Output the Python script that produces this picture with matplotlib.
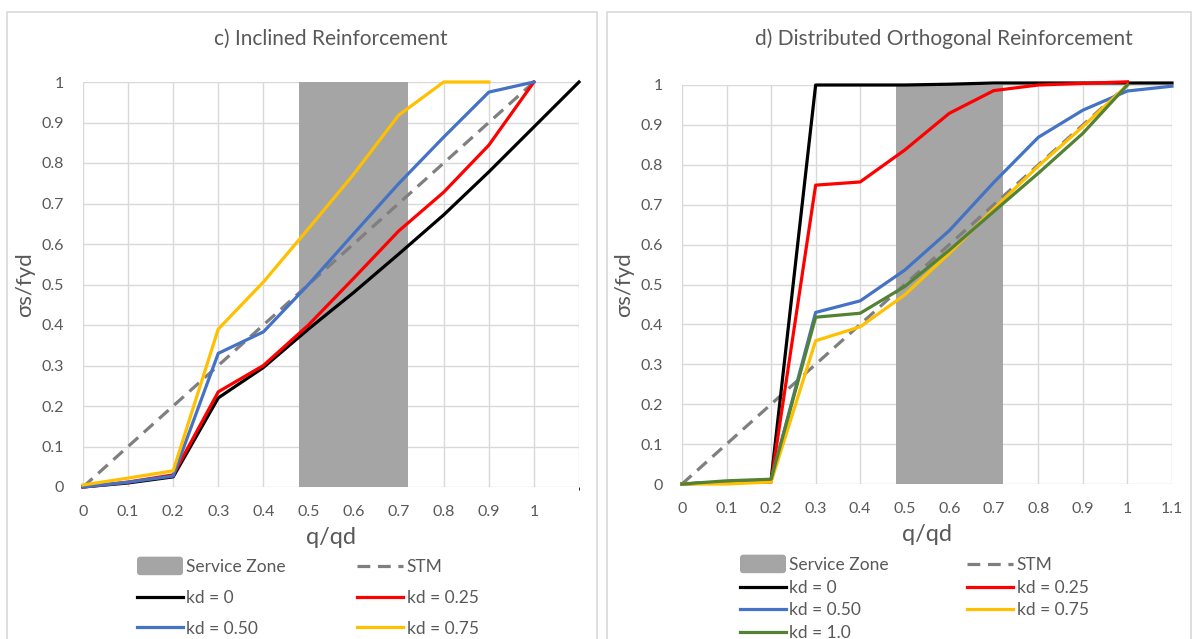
import matplotlib.pyplot as plt
from matplotlib.patches import Rectangle, Patch, FancyBboxPatch
from matplotlib.lines import Line2D
from matplotlib.legend_handler import HandlerPatch

plt.rcParams['font.family'] = ['Lato', 'DejaVu Sans']

# ---------------------------------------------------------------- data
q_c = [0, 0.1, 0.2, 0.3, 0.4, 0.5, 0.6, 0.7, 0.8, 0.9, 1.0, 1.1]
c_kd0 = [0, 0.01, 0.025, 0.22, 0.295, 0.39, 0.48, 0.575, 0.672, 0.778, 0.889, 1.0]
q_c2 = [0, 0.1, 0.2, 0.3, 0.4, 0.5, 0.6, 0.7, 0.8, 0.9, 1.0]
c_kd025 = [0, 0.012, 0.03, 0.235, 0.30, 0.40, 0.515, 0.632, 0.728, 0.844, 1.0]
c_kd050 = [0, 0.012, 0.027, 0.33, 0.383, 0.50, 0.625, 0.749, 0.864, 0.975, 1.0]
q_c3 = [0, 0.1, 0.2, 0.3, 0.4, 0.5, 0.6, 0.7, 0.8, 0.9]
c_kd075 = [0.005, 0.022, 0.04, 0.39, 0.506, 0.638, 0.772, 0.918, 1.0, 1.0]

q_d = [0, 0.1, 0.2, 0.3, 0.4, 0.5, 0.6, 0.7, 0.8, 0.9, 1.0, 1.1]
d_kd0 = [0, 0.005, 0.01, 1.0, 1.0, 1.0, 1.002, 1.005, 1.005, 1.005, 1.005, 1.005]
q_d2 = [0, 0.1, 0.2, 0.3, 0.4, 0.5, 0.6, 0.7, 0.8, 0.9, 1.0]
d_kd025 = [0, 0.004, 0.005, 0.749, 0.757, 0.837, 0.929, 0.986, 1.0, 1.004, 1.008]
d_kd050 = [0, 0.005, 0.01, 0.43, 0.459, 0.536, 0.635, 0.756, 0.869, 0.937, 0.985, 0.997]
d_kd075 = [0, 0.0, 0.005, 0.359, 0.394, 0.474, 0.578, 0.69, 0.797, 0.896, 1.0]
d_kd100 = [0, 0.008, 0.012, 0.418, 0.428, 0.495, 0.586, 0.683, 0.779, 0.879, 1.0]

stm_q = [0, 1.0]
stm_s = [0, 1.0]
service_zone = (0.48, 0.72)

col_kd0 = '#000000'
col_kd025 = '#FF0000'
col_kd050 = '#4472C4'
col_kd075 = '#FFC000'
col_kd100 = '#548235'
col_stm = '#7F7F7F'
col_zone = '#A5A5A5'
txt = '#595959'
dash = (0, (4, 2.4))
LW = 2.3
W, H = 1198, 639

fig = plt.figure(figsize=(11.98, 6.39), dpi=100)

# panel frames
for x0, x1 in [(7, 597), (607, 1191)]:
    fig.patches.append(Rectangle((x0 / W, -0.01), (x1 - x0) / W, 1 - 12 / H + 0.01,
                                 transform=fig.transFigure, fill=False,
                                 edgecolor='#D9D9D9', linewidth=1.2))


def setup(ax, xticks, xlabels):
    ax.set_xlim(0, 1.1)
    ax.set_ylim(0, 1)
    ax.set_xticks(xticks)
    ax.set_xticklabels(xlabels)
    ax.set_xticks([1.1], minor=True)
    ax.set_yticks([i / 10 for i in range(11)])
    ax.set_yticklabels(['0'] + ['%.1f' % (i / 10) for i in range(1, 10)] + ['1'])
    ax.grid(True, which='both', color='#D9D9D9', linewidth=1)
    ax.set_axisbelow(True)
    for s in ax.spines.values():
        s.set_visible(False)
    ax.tick_params(length=0, labelsize=11.5, labelcolor=txt)
    ax.tick_params(axis='x', pad=13)
    ax.tick_params(axis='y', pad=14)
    ax.set_xlabel('q/qd', fontsize=17, color=txt, labelpad=6)
    ax.set_ylabel('σs/fyd', fontsize=16, color=txt, labelpad=4)
    ax.axvspan(service_zone[0], service_zone[1], color=col_zone, zorder=1, lw=0)
    ax.plot(stm_q, stm_s, color=col_stm, ls=dash, lw=LW, zorder=3)


def zone_box(legend, orig_handle, xdescent, ydescent, width, height, fontsize):
    return FancyBboxPatch((-xdescent, -ydescent - 2.3), width, height + 4.6,
                          boxstyle='round,pad=0,rounding_size=2.5')


def handles(with_green):
    h = [Patch(facecolor=col_zone, label='Service Zone'),
         Line2D([], [], color=col_kd0, lw=LW, label='kd = 0'),
         Line2D([], [], color=col_kd050, lw=LW, label='kd = 0.50')]
    if with_green:
        h.append(Line2D([], [], color=col_kd100, lw=LW, label='kd = 1.0'))
    h += [Line2D([], [], color=col_stm, ls=dash, lw=LW, label='STM'),
          Line2D([], [], color=col_kd025, lw=LW, label='kd = 0.25'),
          Line2D([], [], color=col_kd075, lw=LW, label='kd = 0.75')]
    return h


hmap = {Patch: HandlerPatch(patch_func=zone_box)}

# ---------------------------------------------------------------- c)
ax1 = fig.add_axes([83 / W, 1 - 487 / H, 496 / W, 405 / H])
ticks_c = [i / 10 for i in range(11)]
setup(ax1, ticks_c, ['0'] + ['%.1f' % t for t in ticks_c[1:10]] + ['1'])
fig.text(331 / W, 1 - 39 / H, 'c) Inclined Reinforcement', fontsize=15,
         color=txt, ha='center', va='center')
ax1.plot(q_c, c_kd0, color=col_kd0, lw=LW, zorder=4, clip_on=False)
ax1.plot(q_c2, c_kd025, color=col_kd025, lw=LW, zorder=4, clip_on=False)
ax1.plot(q_c2, c_kd050, color=col_kd050, lw=LW, zorder=4, clip_on=False)
ax1.plot(q_c3, c_kd075, color=col_kd075, lw=LW, zorder=4, clip_on=False)

fig.legend(handles=handles(False), handler_map=hmap, ncol=2, loc='upper left',
           bbox_to_anchor=(137 / W, 1 - 559 / H), frameon=False,
           borderpad=0, borderaxespad=0,
           fontsize=12.5, labelcolor=txt, handlelength=2.65, handleheight=0.7,
           handletextpad=0.2, columnspacing=4.1, labelspacing=0.85)

# ---------------------------------------------------------------- d)
ax2 = fig.add_axes([682 / W, 1 - 484 / H, 490 / W, 399 / H])
ticks_d = [i / 10 for i in range(12)]
setup(ax2, ticks_d, ['0'] + ['%.1f' % t for t in ticks_d[1:10]] + ['1', '1.1'])
fig.text(944 / W, 1 - 39 / H, 'd) Distributed Orthogonal Reinforcement',
         fontsize=15, color=txt, ha='center', va='center')
ax2.plot(q_d, d_kd0, color=col_kd0, lw=LW, zorder=4, clip_on=False)
ax2.plot(q_d2, d_kd025, color=col_kd025, lw=LW, zorder=4, clip_on=False)
ax2.plot(q_d, d_kd050, color=col_kd050, lw=LW, zorder=4, clip_on=False)
ax2.plot(q_d2, d_kd075, color=col_kd075, lw=LW, zorder=4, clip_on=False)
ax2.plot(q_d2, d_kd100, color=col_kd100, lw=LW, zorder=4, clip_on=False)

fig.legend(handles=handles(True), handler_map=hmap, ncol=2, loc='upper left',
           bbox_to_anchor=(740 / W, 1 - 557 / H), frameon=False,
           borderpad=0, borderaxespad=0,
           fontsize=12.5, labelcolor=txt, handlelength=2.65, handleheight=0.7,
           handletextpad=0.2, columnspacing=4.5, labelspacing=0.38)

fig.savefig('out.png', dpi=100)
